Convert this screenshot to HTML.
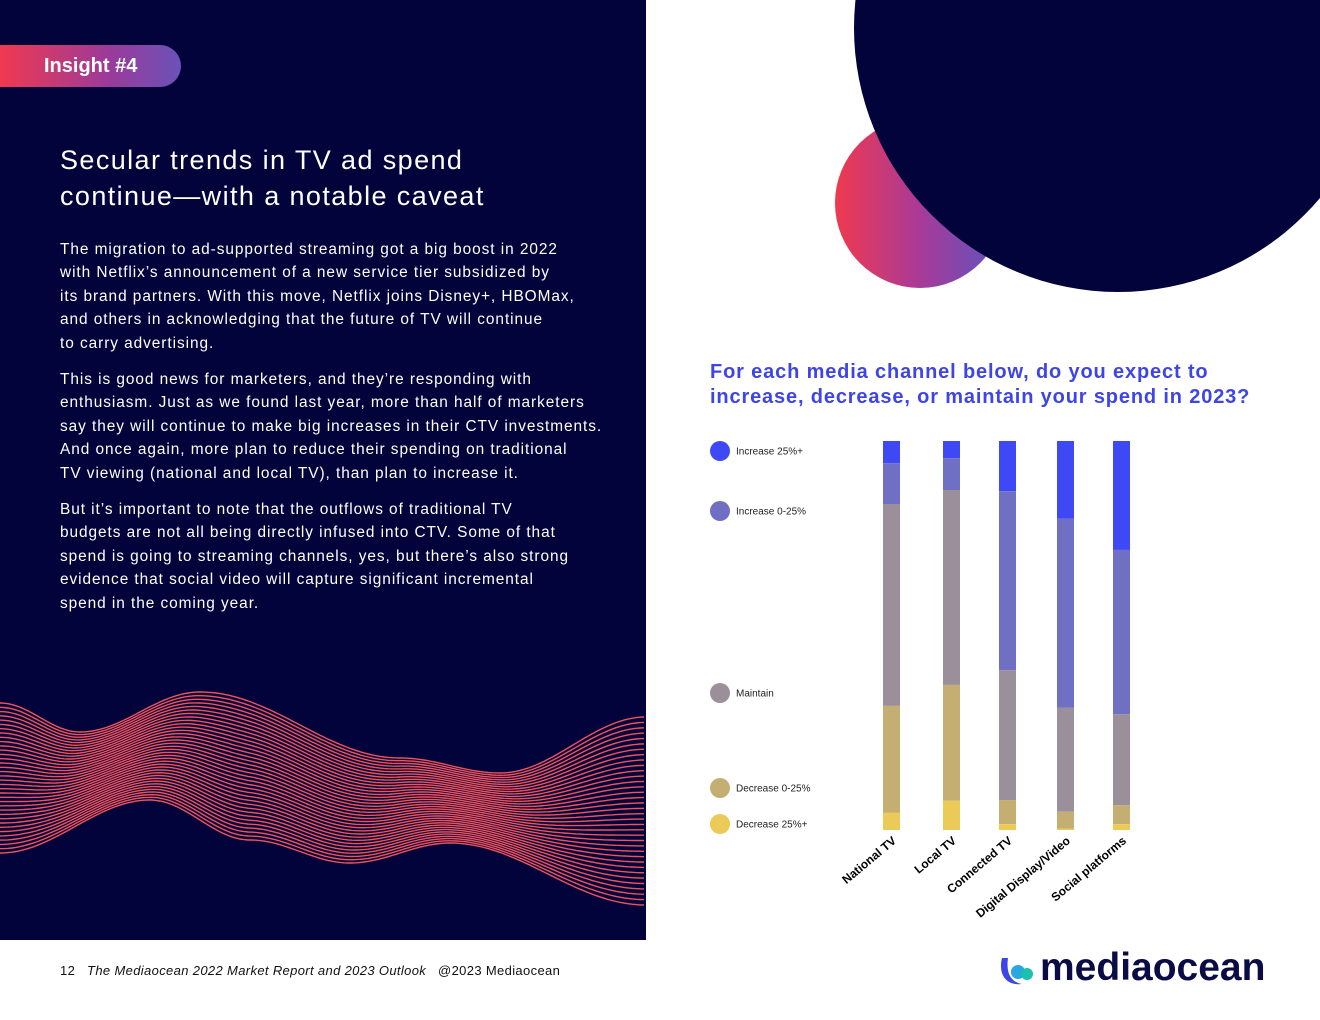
<!DOCTYPE html>
<html><head><meta charset="utf-8"><style>
body{margin:0;width:1320px;height:1020px;position:relative;overflow:hidden;background:#fff;font-family:"Liberation Sans",sans-serif}
#left{position:absolute;left:0;top:0;width:646px;height:940px;background:#02033a}
.badge{position:absolute;left:0;top:45px;width:181px;height:42px;border-radius:0 21px 21px 0;background:linear-gradient(90deg,#f0394f,#9b3a9a 60%,#6a52b8);color:#fff;font-weight:bold;font-size:20px;line-height:42px;padding-left:44px;box-sizing:border-box}
h1{position:absolute;left:60px;top:142px;margin:0;color:#fff;font-weight:normal;font-size:27px;line-height:36px;letter-spacing:1.4px;white-space:nowrap}
.body{position:absolute;left:60px;top:238px;width:580px;color:#fff;font-size:15.4px;line-height:23.4px;letter-spacing:0.95px;white-space:nowrap}
.body p{margin:0 0 13px}
#foot{position:absolute;left:60px;top:963px;font-size:13px;color:#111;letter-spacing:0.35px}
#title{position:absolute;left:710px;top:360px;color:#3e45e8;font-weight:bold;font-size:20px;line-height:24.5px;letter-spacing:0.85px;white-space:nowrap}
.logo{position:absolute;left:1040px;top:946px;font-size:39px;font-weight:bold;color:#0b0b45;letter-spacing:0px}
</style></head><body>
<div id="left">
<div class="badge">Insight #4</div>
<h1>Secular trends in TV ad spend<br>continue—with a notable caveat</h1>
<div class="body">
<p>The migration to ad-supported streaming got a big boost in 2022<br>with Netflix’s announcement of a new service tier subsidized by<br>its brand partners. With this move, Netflix joins Disney+, HBOMax,<br>and others in acknowledging that the future of TV will continue<br>to carry advertising.</p>
<p>This is good news for marketers, and they’re responding with<br>enthusiasm. Just as we found last year, more than half of marketers<br>say they will continue to make big increases in their CTV investments.<br>And once again, more plan to reduce their spending on traditional<br>TV viewing (national and local TV), than plan to increase it.</p>
<p>But it’s important to note that the outflows of traditional TV<br>budgets are not all being directly infused into CTV. Some of that<br>spend is going to streaming channels, yes, but there’s also strong<br>evidence that social video will capture significant incremental<br>spend in the coming year.</p>
</div>
<svg id="wave" width="646" height="940" style="position:absolute;left:0;top:0"></svg>
</div>
<svg width="1320" height="300" style="position:absolute;left:0;top:0">
<defs><linearGradient id="g" x1="0" x2="1"><stop offset="0" stop-color="#f0394f"/><stop offset="0.5" stop-color="#a83a98"/><stop offset="1" stop-color="#5a55c0"/></linearGradient></defs>
<circle cx="920" cy="203" r="85" fill="url(#g)"/>
<circle cx="1118" cy="28" r="264" fill="#02033a"/>
</svg>
<div id="title">For each media channel below, do you expect to<br>increase, decrease, or maintain your spend in 2023?</div>
<svg id="chart" width="1320" height="1020" style="position:absolute;left:0;top:0"></svg>
<div id="foot">12 &nbsp; <i>The Mediaocean 2022 Market Report and 2023 Outlook</i> &nbsp; @2023 Mediaocean</div>
<svg width="40" height="36" style="position:absolute;left:998px;top:954px"><path d="M4 4 C0 20 8 32 24 30 C12 28 8 18 10 4Z" fill="#3e45e8"/><circle cx="20" cy="18" r="7" fill="#2aa6e0"/><circle cx="29" cy="20" r="6" fill="#1cc0b0"/></svg>
<div class="logo">mediaocean</div>
<script>
const NS="http://www.w3.org/2000/svg";
const categories=["National TV","Local TV","Connected TV","Digital Display/Video","Social platforms"];
const increase25=[5.7,4.4,12.9,20.0,28.0];
const increase0=[10.5,8.2,46.0,48.6,42.2];
const maintain=[51.9,50.1,33.4,26.7,23.4];
const decrease0=[27.5,29.8,6.2,4.4,4.9];
const decrease25=[4.4,7.5,1.5,0.3,1.5];
const seriesNames=["Increase 25%+","Increase 0-25%","Maintain","Decrease 0-25%","Decrease 25%+"];
const series=[increase25,increase0,maintain,decrease0,decrease25];
const colors=["#3e48f5","#6f6fc4","#9a8f9b","#c5ae72","#ecca57"];
const chart=document.getElementById('chart');
const top0=441,h=389;
const xs=[883,943,999,1057,1113];
const y=v=>top0+v/100*h;
categories.forEach((c,i)=>{
  let acc=0;
  series.forEach((s,k)=>{
    const r=document.createElementNS(NS,'rect');
    r.setAttribute('x',xs[i]);r.setAttribute('width',17);
    r.setAttribute('y',y(acc));r.setAttribute('height',y(acc+s[i])-y(acc));
    r.setAttribute('fill',colors[k]);
    
    
    chart.appendChild(r);acc+=s[i];
  });
  const t=document.createElementNS(NS,'text');
  t.setAttribute('transform',`translate(${xs[i]+14},${y(100)+12}) rotate(-40)`);
  t.setAttribute('text-anchor','end');t.setAttribute('font-size','12');t.setAttribute('font-weight','bold');
  t.setAttribute('font-family','Liberation Sans, sans-serif');
  t.textContent=c;
  
  
  chart.appendChild(t);
});
const ly=[451,511,693,788,824];
seriesNames.forEach((n,k)=>{
  const c=document.createElementNS(NS,'circle');
  c.setAttribute('cx',720);c.setAttribute('cy',ly[k]);c.setAttribute('r',10);c.setAttribute('fill',colors[k]);
  
  
  chart.appendChild(c);
  const t=document.createElementNS(NS,'text');
  t.setAttribute('x',736);t.setAttribute('y',ly[k]+3.5);t.setAttribute('font-size','10');t.setAttribute('fill','#222');
  t.setAttribute('font-family','Liberation Sans, sans-serif');
  t.textContent=n;
  
  
  chart.appendChild(t);
});
const wave=document.getElementById('wave');
const topPts=[[0,703],[80,732],[200,692],[400,758],[500,773],[646,717]];
const botPts=[[0,853],[150,800],[250,840],[350,863],[450,843],[646,905]];
function interp(p,x){for(let i=0;i<p.length-1;i++){if(x<=p[i+1][0]){const t=(x-p[i][0])/(p[i+1][0]-p[i][0]);const s=(1-Math.cos(Math.PI*t))/2;return p[i][1]+(p[i+1][1]-p[i][1])*s;}}return p[p.length-1][1];}
const N=36;
for(let j=0;j<N;j++){
  const t=j/(N-1);let d="";
  for(let x=0;x<=646;x+=4){const yy=interp(topPts,x)*(1-t)+interp(botPts,x)*t;d+=(x?"L":"M")+x+" "+yy.toFixed(1);}
  const p=document.createElementNS(NS,'path');
  p.setAttribute('d',d);p.setAttribute('stroke','#f0525a');p.setAttribute('stroke-width','1.4');p.setAttribute('fill','none');
  
  
  wave.appendChild(p);
}
</script>
</body></html>
